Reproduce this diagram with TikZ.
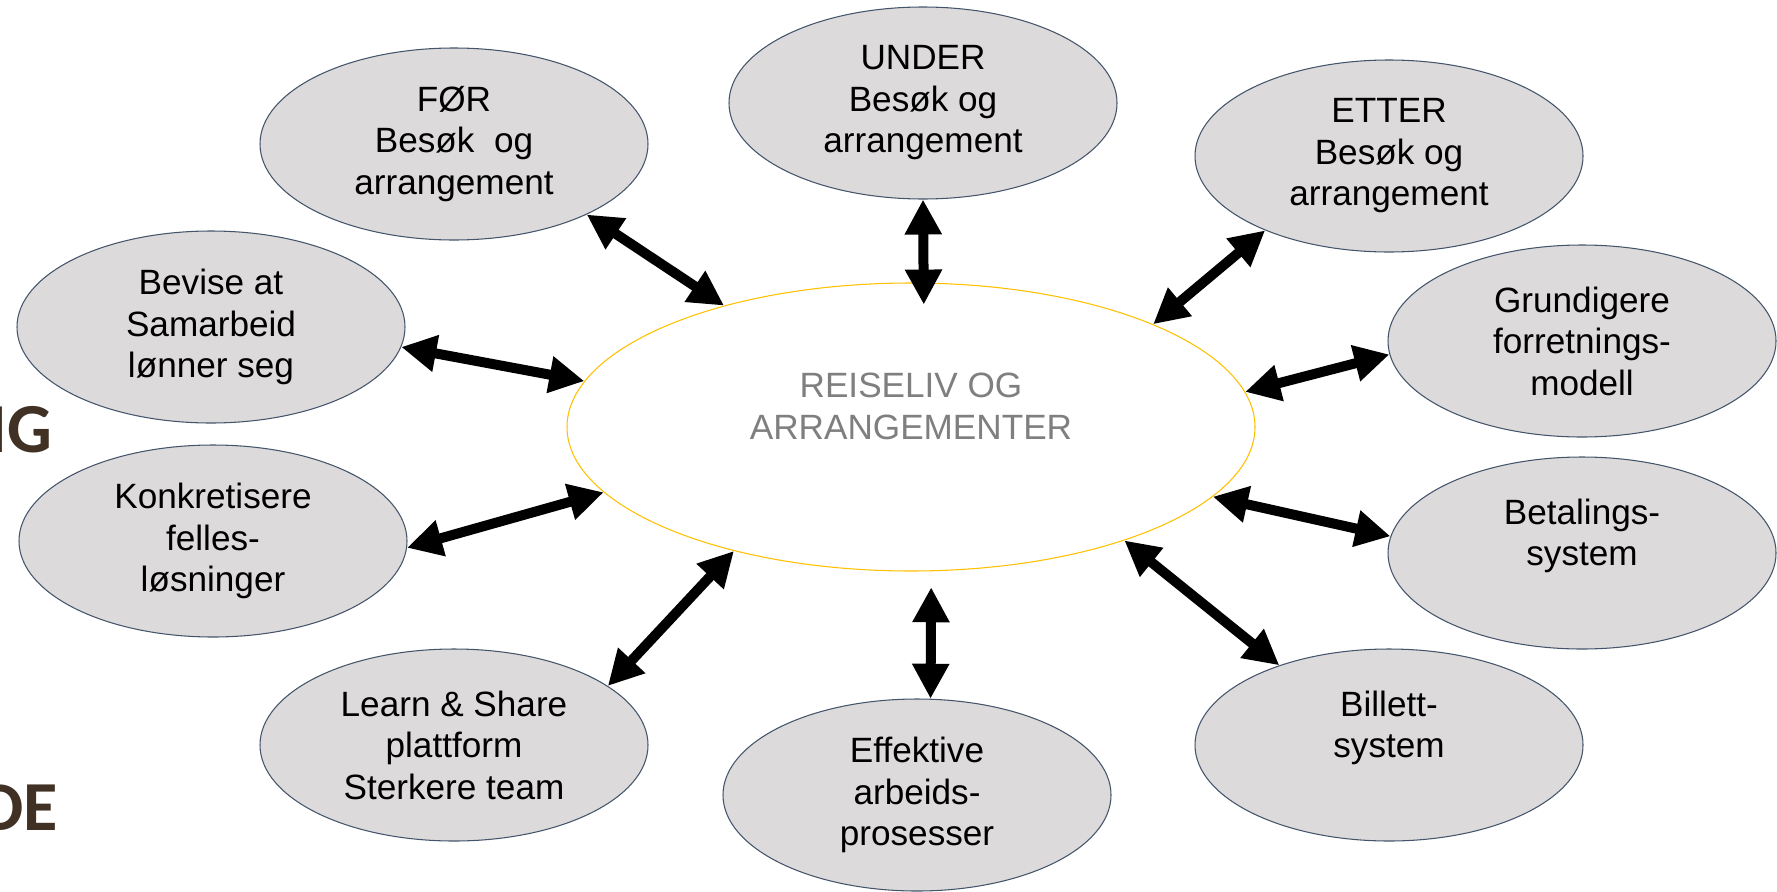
\documentclass[tikz,border=0pt]{standalone}
\usepackage{fontspec}
\setmainfont{Liberation Sans}
\newfontfamily\headfont{Carlito}
\usetikzlibrary{arrows.meta, shapes.geometric}
\definecolor{bubblefill}{RGB}{220,218,219}
\definecolor{bubbleline}{RGB}{68,84,106}
\definecolor{hubline}{RGB}{255,192,0}
\definecolor{hubtext}{RGB}{127,127,127}
\definecolor{headbrown}{RGB}{64,49,36}

\begin{document}
\begin{tikzpicture}[x=0.1mm, y=-0.1mm,
    bubble/.style={ellipse, draw=bubbleline, fill=bubblefill, line width=0.3pt,
        minimum width=38.8mm, minimum height=19.2mm, inner sep=0pt, align=center,
        font=\fontsize{10pt}{11.8pt}\selectfont},
    hub/.style={ellipse, draw=hubline, fill=white, line width=0.3pt,
        minimum width=68.8mm, minimum height=28.8mm, inner sep=0pt, align=center,
        text=hubtext, font=\fontsize{10pt}{11.8pt}\selectfont},
    link/.style={line width=1mm, {Triangle[length=3.5mm,width=3.5mm]}-{Triangle[length=3.5mm,width=3.5mm]}},
    side/.style={anchor=base east, inner sep=0pt, text=headbrown,
        font=\headfont\bfseries\fontsize{20pt}{24pt}\selectfont}]
                        \useasboundingbox (0,0) rectangle (1777,891);

                        % Cut-off headings at the left:
                        \node[side] (ig) at (53,452) {IG};
                        \node[side] (de) at (59,830) {DE};

                        % Centre:
                        \node[hub] (hub) at (911,427) {REISELIV OG\\ARRANGEMENTER\\~};

                        % Bubbles:
                        \node[bubble] (foer) at (454,144) {FØR\\Besøk\ \ og\\arrangement};
                        \node[bubble] (under) at (923,103) {UNDER\\Besøk og\\arrangement};
                        \node[bubble] (etter) at (1389,156) {ETTER\\Besøk og\\arrangement};
                        \node[bubble] (bevise) at (211,327) {Bevise at\\Samarbeid\\lønner seg};
                        \node[bubble] (grund) at (1582,341) {Grundigere\\forretnings-\\modell};
                        \node[bubble] (konkr) at (213,541) {Konkretisere\\felles-\\løsninger};
                        \node[bubble] (betal) at (1582,553) {Betalings-\\system\\~};
                        \node[bubble] (learn) at (454,745) {Learn \& Share\\plattform\\Sterkere team};
                        \node[bubble] (effekt) at (917,795) {Effektive\\arbeids-\\prosesser};
                        \node[bubble] (billett) at (1389,745) {Billett-\\system\\~};

                        % Arrows:
                        \draw[link] (foer.-28) -- (hub.147);
                        \draw[link, shorten >=-2.2mm] (under.-90) -- (hub.85);
                        \draw[link] (etter.211) -- (hub.23);
                        \draw[link] (bevise.-6) -- (hub.172);
                        \draw[link] (grund.184) -- (hub.6);
                        \draw[link] (konkr.-2) -- (hub.192);
                        \draw[link] (betal.175) -- (hub.-13);
                        \draw[link] (learn.21) -- (hub.215);
                        \draw[link, shorten >=1.6mm] (effekt.82) -- (hub.-82);
                        \draw[link] (billett.144) -- (hub.-28);
\end{tikzpicture}
\end{document}
